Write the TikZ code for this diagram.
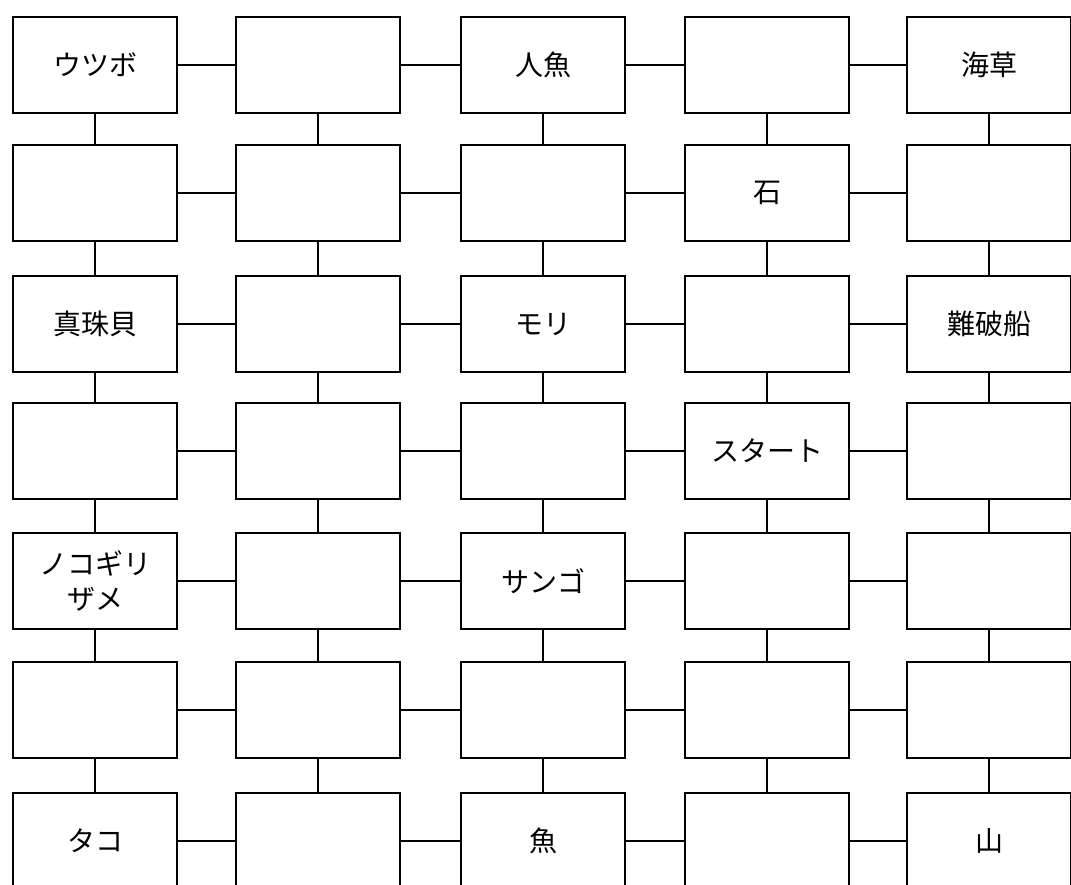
\documentclass[tikz,border=0pt]{standalone}
\usepackage{fontspec}
\setmainfont{Noto Sans CJK JP}
\begin{document}
\begin{tikzpicture}[x=1pt, y=-1pt,
		box/.style={draw, line width=1.6pt, minimum width=164pt, minimum height=96pt,
				inner sep=0pt, align=center, font=\fontsize{28}{35}\selectfont},
		link/.style={line width=1.6pt}]
		\useasboundingbox (0,0) rectangle (1071,885);
		\clip (0,0) rectangle (1071,885);

		\foreach \c/\x/\t in {1/95/ウツボ, 2/318/{}, 3/543/人魚, 4/767/{}, 5/989/海草} {
				\node[box] (b1\c) at (\x, 65) {\t};
			}
		\foreach \c/\x/\t in {1/95/{}, 2/318/{}, 3/543/{}, 4/767/石, 5/989/{}} {
				\node[box] (b2\c) at (\x, 193) {\t};
			}
		\foreach \c/\x/\t in {1/95/真珠貝, 2/318/{}, 3/543/モリ, 4/767/{}, 5/989/難破船} {
				\node[box] (b3\c) at (\x, 324) {\t};
			}
		\foreach \c/\x/\t in {1/95/{}, 2/318/{}, 3/543/{}, 4/767/スタート, 5/989/{}} {
				\node[box] (b4\c) at (\x, 451) {\t};
			}
		\foreach \c/\x/\t in {1/95/{ノコギリ\\ザメ}, 2/318/{}, 3/543/サンゴ, 4/767/{}, 5/989/{}} {
				\node[box] (b5\c) at (\x, 581) {\t};
			}
		\foreach \c/\x/\t in {1/95/{}, 2/318/{}, 3/543/{}, 4/767/{}, 5/989/{}} {
				\node[box] (b6\c) at (\x, 710) {\t};
			}
		\foreach \c/\x/\t in {1/95/タコ, 2/318/{}, 3/543/魚, 4/767/{}, 5/989/山} {
				\node[box] (b7\c) at (\x, 841) {\t};
			}

		% rows
		\foreach \r in {1,...,7} {
				\foreach \c [count=\n from 2] in {1,...,4} {
						\draw[link] (b\r\c) -- (b\r\n);
					}
			}
		% columns
		\foreach \r [count=\n from 2] in {1,...,6} {
				\foreach \c in {1,...,5} {
						\draw[link] (b\r\c) -- (b\n\c);
					}
			}
	\end{tikzpicture}
\end{document}
